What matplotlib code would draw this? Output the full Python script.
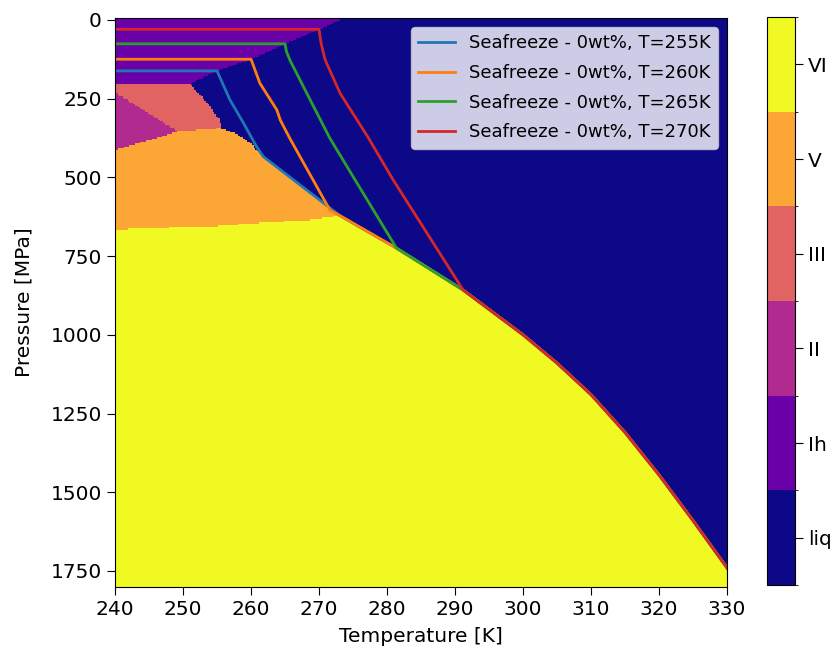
import numpy as np
import matplotlib
matplotlib.use('Agg')
import matplotlib.pyplot as plt
from matplotlib.colors import BoundaryNorm

# ---------------- data ----------------
phase_labels = ['liq', 'Ih', 'II', 'III', 'V', 'VI']

# solid/liquid boundary: melting temperature vs pressure
liquidus_P = [0, 30, 76, 125, 162, 203, 275, 318, 345, 362, 392, 434, 622, 725, 858,
              1000, 1090, 1190, 1310, 1445, 1590, 1740, 1810]
liquidus_T = [273.2, 270, 265, 260, 255, 251, 254, 255.4, 255.7, 257.9, 259.9, 261.8, 273.1, 281.4, 291.2,
              300, 305, 310, 315, 320, 325, 330, 332]

# Ih lower boundary (constant pressure)
ih_base_P = 203
# II upper boundary (II / III)
ii_top_T = [240, 249.1]
ii_top_P = [231, 352]
# V upper boundary (II / V and III / V)
v_top_T = [240, 244.2, 249.1, 255.4, 262]
v_top_P = [413, 387, 355, 344, 344]
# V / VI boundary
v_vi_T = [240, 243.9, 254, 261.8, 268.7, 273.1]
v_vi_P = [668, 662, 657, 644, 635, 622]

# Seafreeze profiles (upper part; below join pressure they follow the melting curve)
prof_labels = ['Seafreeze - 0wt%, T=255K', 'Seafreeze - 0wt%, T=260K',
               'Seafreeze - 0wt%, T=265K', 'Seafreeze - 0wt%, T=270K']
p255_T = [240, 255, 256.9, 258.9, 260.8]
p255_P = [162, 162, 254, 328, 402]
p260_T = [240, 260, 261.3, 263.8, 264.3, 265.7, 271.6]
p260_P = [125, 125, 201, 286, 318, 376, 604]
p265_T = [240, 265, 265.2, 265.7, 268.2, 271.6, 275.3]
p265_P = [76, 76, 100, 127, 233, 376, 508]
p270_T = [240, 270, 270.3, 270.9, 273.1, 277.3, 280.9]
p270_P = [30, 30, 74, 127, 233, 376, 508]
join_P = [434, 622, 725, 858]

# ---------------- phase grid ----------------
T = np.arange(240, 330.001, 0.25)
P = np.arange(-5, 1805.001, 5)
TT, PP = np.meshgrid(T, P)

phase = np.full(TT.shape, 3)
phase[(PP >= np.interp(TT, ii_top_T, ii_top_P)) & (TT <= ii_top_T[-1])] = 2
phase[PP >= np.interp(TT, v_top_T, v_top_P)] = 4
phase[PP >= np.interp(TT, v_vi_T, v_vi_P)] = 5
phase[PP < ih_base_P] = 1
phase[TT > np.interp(PP, liquidus_P, liquidus_T)] = 0

# ---------------- figure ----------------
fig = plt.figure(figsize=(8.36, 6.54), dpi=100)
ax = fig.add_axes([0.1376, 0.1029, 0.732, 0.8696])
cax = fig.add_axes([0.9175, 0.1055, 0.0335, 0.8685])

cmap = plt.get_cmap('plasma', 6)
norm = BoundaryNorm(np.arange(-0.5, 6.5, 1), cmap.N)
mesh = ax.pcolormesh(T, P, phase, cmap=cmap, norm=norm, shading='nearest')

profiles = [(p255_T, p255_P), (p260_T, p260_P), (p265_T, p265_P), (p270_T, p270_P)]
colors = ['C0', 'C1', 'C2', 'C3']
for (pt, pp), jp, lab, c in zip(profiles, join_P, prof_labels, colors):
    tail = [i for i, pv in enumerate(liquidus_P) if pv >= jp]
    xs = list(pt) + [liquidus_T[i] for i in tail]
    ys = list(pp) + [liquidus_P[i] for i in tail]
    ax.plot(xs, ys, color=c, lw=2.0, label=lab)

ax.set_xlim(240, 330)
ax.set_ylim(1800, -6)
ax.set_xticks(np.arange(240, 331, 10))
ax.set_yticks(np.arange(0, 1751, 250))
ax.tick_params(labelsize=14.5, length=6)
ax.set_xlabel('Temperature [K]', fontsize=14.5, labelpad=6)
ax.set_ylabel('Pressure [MPa]', fontsize=14.5, labelpad=12)
ax.legend(loc='upper right', fontsize=13, labelspacing=0.65)

cb = fig.colorbar(mesh, cax=cax, ticks=np.arange(6))
cb.ax.set_yticklabels(phase_labels)
cb.ax.tick_params(labelsize=14.5, length=6)

fig.savefig('out.png', dpi=100)
